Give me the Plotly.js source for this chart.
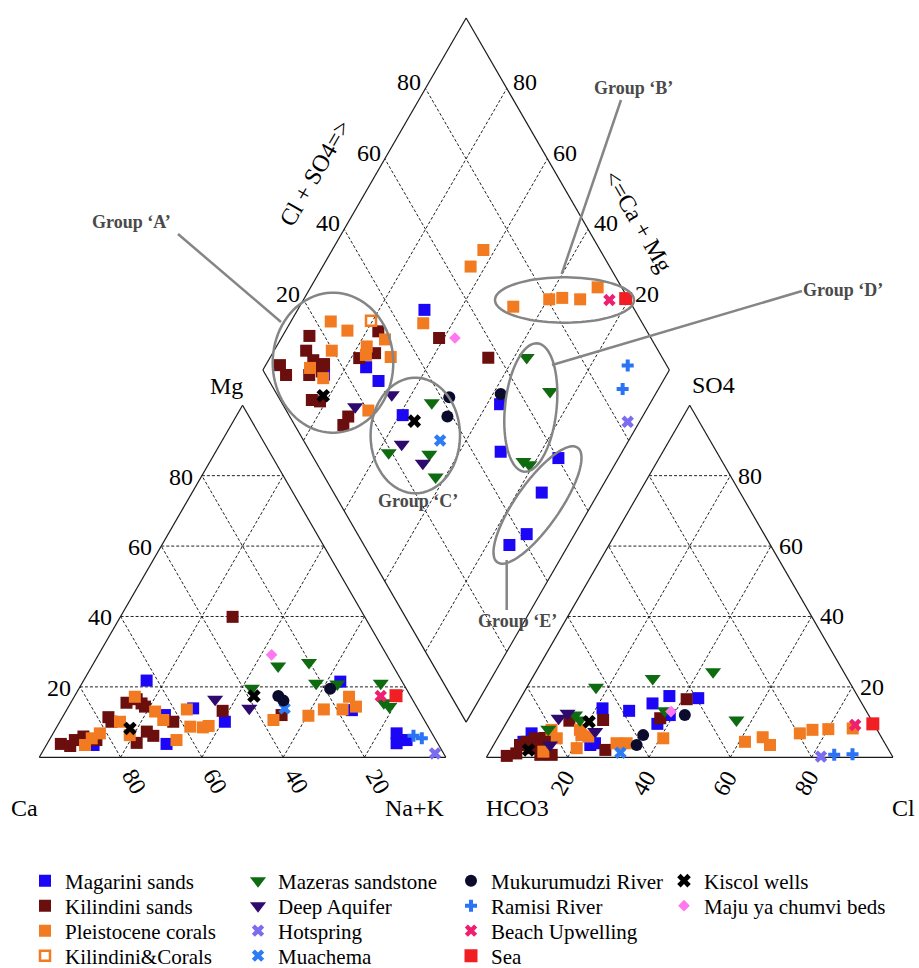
<!DOCTYPE html>
<html><head><meta charset="utf-8">
<script src="https://cdn.plot.ly/plotly-3.0.1.min.js"></script>
<style>html,body{margin:0;padding:0;background:#fff}</style>
</head><body><div id="chart" style="width:919px;height:968px"></div>
<script>
// ---------------- DATA (percent of meq) ----------------
// Cation triangle: [Mg %, Na+K %]; Anion triangle: [SO4 %, Cl %]; Diamond: [Cl+SO4 %, Ca+Mg %]
const MAGARINI_CAT = [[21.8,15.5],[13.9,30.9],[12.0,24.9],[3.8,29.4],[10.1,40.6],[3.5,11.6],[21.5,63.3],[13.4,70.2],[6.8,84.5],[4.9,86.2],[4.9,87.9],[4.0,85.9]];
const MAGARINI_AN  = [[13.9,21.6],[13.2,28.5],[15.3,33.2],[17.4,36.3],[16.8,43.7],[9.5,37.3],[12.0,39.1],[4.4,6.9],[6.8,7.7],[3.5,23.8],[4.0,24.7]];
const MAGARINI_DIA = [[14.4,84.3],[25.8,75.0],[26.9,70.0],[48.3,68.8],[28.0,59.2],[53.5,36.8],[46.9,29.9],[60.2,14.8],[51.2,14.0],[41.6,11.8],[35.8,14.5]];

const KILINDINI_CAT = [[15.5,13.7],[16.5,15.7],[15.3,17.5],[14.4,18.8],[11.4,11.3],[10.1,12.7],[3.8,3.4],[3.2,6.0],[4.9,6.3],[5.9,7.9],[4.9,11.6],[4.1,21.9],[7.3,22.8],[6.1,25.0],[10.1,27.9],[13.2,38.5],[39.9,27.6],[12.0,53.6]];
const KILINDINI_AN  = [[16.5,41.0],[11.1,37.2],[10.6,23.4],[10.4,15.2],[2.1,28.2],[0.4,4.8],[1.1,6.8],[4.4,7.7],[5.4,9.2],[3.0,11.7],[0.7,15.7],[2.6,9.4],[5.5,11.7],[3.5,6.5],[0.7,12.9]];
const KILINDINI_DIA = [[16.3,93.4],[13.4,92.1],[13.8,89.0],[15.9,85.8],[10.7,87.9],[4.9,96.5],[5.0,93.6],[7.8,83.7],[9.6,81.5],[14.4,72.4],[12.0,72.4],[25.4,78.0],[30.0,74.8],[33.9,77.1],[47.9,61.2],[57.2,46.3],[14.3,85.3]];

const PLEISTO_CAT = [[17.2,14.9],[10.1,14.8],[13.0,22.0],[10.6,25.2],[6.8,11.5],[5.4,10.2],[3.5,9.5],[6.3,19.1],[4.9,31.3],[13.6,29.5],[8.7,32.8],[8.5,36.0],[8.9,37.2],[10.6,52.3],[11.8,60.3],[13.6,63.2],[13.6,67.8],[17.2,67.6],[14.4,70.7]];
const PLEISTO_AN  = [[7.8,12.1],[5.4,14.6],[1.6,13.2],[7.8,19.1],[5.9,22.1],[6.3,20.2],[2.6,20.9],[4.0,30.0],[4.0,32.5],[5.4,40.8],[4.4,61.4],[5.7,65.1],[3.5,68.0],[6.8,73.7],[7.8,76.3],[8.0,80.1],[8.2,86.0]];
const PLEISTO_DIA = [[23.6,90.2],[26.4,84.8],[19.7,85.8],[11.9,88.7],[13.7,84.0],[28.9,77.8],[27.5,76.8],[34.4,74.3],[33.3,70.4],[20.2,68.3],[46.1,67.2],[71.3,62.8],[65.8,63.6],[70.6,47.4],[80.5,39.6],[83.9,36.6],[88.1,32.0],[94.1,29.4]];

const KILCOR_CAT = [];
const KILCOR_AN  = [];
const KILCOR_DIA = [[33.6,80.4]];

const MAZERAS_CAT = [[25.9,45.8],[26.9,52.9],[21.0,57.6],[19.6,42.5],[20.8,62.9],[21.0,73.5],[15.5,77.0],[14.4,78.9]];
const MAZERAS_AN  = [[19.9,17.0],[22.4,29.7],[24.3,43.6],[10.6,56.2],[8.0,11.2],[12.0,15.8],[10.6,17.7],[13.2,37.3]];
const MAZERAS_DIA = [[36.9,53.8],[19.2,57.3],[29.0,47.1],[27.3,42.3],[66.7,36.9],[67.6,26.3],[51.1,22.9],[52.1,21.0]];

const DEEP_CAT = [[16.5,35.0],[13.9,44.7]];
const DEEP_AN  = [[11.1,12.2],[12.5,13.7],[7.3,23.1],[3.5,13.9]];
const DEEP_DIA = [[28.2,64.8],[17.5,72.1],[23.6,55.3],[26.1,47.4]];

const HOT_CAT = [[1.1,96.8]];
const HOT_AN  = [[0.2,82.2]];
const HOT_DIA = [[82.4,2.9]];

const MUACHEMA_CAT = [[13.9,53.4]];
const MUACHEMA_AN  = [[1.3,32.3]];
const MUACHEMA_DIA = [[33.6,46.4]];

const MUKURU_CAT = [[17.4,50.1],[16.1,52.0],[19.5,61.8]];
const MUKURU_AN  = [[12.0,42.8],[6.3,35.4],[3.5,35.2]];
const MUKURU_DIA = [[42.0,50.3],[38.8,48.0],[55.1,38.1]];

const RAMISI_CAT = [[6.1,89.0],[5.4,91.4]];
const RAMISI_AN  = [[0.7,85.2],[0.9,89.6]];
const RAMISI_DIA = [[90.4,10.9],[85.8,8.8]];

const BEACH_CAT = [[17.4,75.3]];
const BEACH_AN  = [[9.2,86.1]];
const BEACH_DIA = [[95.2,24.7]];

const SEA_CAT = [[17.5,79.0]];
const SEA_AN  = [[9.5,90.3]];
const SEA_DIA = [[99.4,20.9]];

const KISCOL_CAT = [[8.2,18.2],[17.4,44.1]];
const KISCOL_AN  = [[10.1,20.2],[2.1,9.3]];
const KISCOL_DIA = [[11.2,81.5],[30.0,55.5]];

const MAJU_CAT = [[29.1,42.6]];
const MAJU_AN  = [[13.0,38.9]];
const MAJU_DIA = [[51.8,57.3]];

const TICKS = [20,40,60,80];

// ---------------- GEOMETRY ----------------
const W=919, H=968;
const SCALE=406.5, OX=39.3, OY=757.3;
const S3=Math.sqrt(3)/2, GAP=0.1;
const FONT='Liberation Serif, Times New Roman, serif';
function px2x(X){return (X-OX)/SCALE;}
function px2y(Y){return (OY-Y)/SCALE;}
function catXY(mg,nak){return [nak/100+mg/200, mg/100*S3];}
function anXY(so4,cl){return [1+GAP+cl/100+so4/200, so4/100*S3];}
const DB=[1+GAP/2, GAP/2*Math.sqrt(3)];
function diaXY(a,m){return [DB[0]+(a-m)/200, DB[1]+(a+m)/100*S3];}

// ---------------- SERIES ----------------
const series = [
 {name:'Magarini sands', cat:MAGARINI_CAT, an:MAGARINI_AN, dia:MAGARINI_DIA, sym:'square', color:'#1b06f5', size:12, legend:'legend'},
 {name:'Kilindini sands', cat:KILINDINI_CAT, an:KILINDINI_AN, dia:KILINDINI_DIA, sym:'square', color:'#6b0e0e', size:12, legend:'legend2'},
 {name:'Pleistocene corals', cat:PLEISTO_CAT, an:PLEISTO_AN, dia:PLEISTO_DIA, sym:'square', color:'#f27b21', size:12, legend:'legend3'},
 {name:'Kilindini&Corals', cat:KILCOR_CAT, an:KILCOR_AN, dia:KILCOR_DIA, sym:'square-open', color:'#f27b21', size:10, lw:2.5, legend:'legend4'},
 {name:'Mazeras sandstone', cat:MAZERAS_CAT, an:MAZERAS_AN, dia:MAZERAS_DIA, sym:'triangle-down', color:'#0f6b0f', size:14, legend:'legend'},
 {name:'Deep Aquifer', cat:DEEP_CAT, an:DEEP_AN, dia:DEEP_DIA, sym:'triangle-down', color:'#2e0a6e', size:14, legend:'legend2'},
 {name:'Hotspring', cat:HOT_CAT, an:HOT_AN, dia:HOT_DIA, sym:'x', color:'#7b6cf0', size:11, legend:'legend3'},
 {name:'Muachema', cat:MUACHEMA_CAT, an:MUACHEMA_AN, dia:MUACHEMA_DIA, sym:'x', color:'#2d7cf6', size:11, legend:'legend4'},
 {name:'Mukurumudzi River', cat:MUKURU_CAT, an:MUKURU_AN, dia:MUKURU_DIA, sym:'circle', color:'#0b0b2e', size:12, legend:'legend'},
 {name:'Ramisi River', cat:RAMISI_CAT, an:RAMISI_AN, dia:RAMISI_DIA, sym:'cross', color:'#2b73f5', size:10, legend:'legend2'},
 {name:'Beach Upwelling', cat:BEACH_CAT, an:BEACH_AN, dia:BEACH_DIA, sym:'x', color:'#ee1f6e', size:11, legend:'legend3'},
 {name:'Sea', cat:SEA_CAT, an:SEA_AN, dia:SEA_DIA, sym:'square', color:'#ef1f24', size:13, legend:'legend4'},
 {name:'Kiscol wells', cat:KISCOL_CAT, an:KISCOL_AN, dia:KISCOL_DIA, sym:'x', color:'#000000', size:12, legend:'legend'},
 {name:'Maju ya chumvi beds', cat:MAJU_CAT, an:MAJU_AN, dia:MAJU_DIA, sym:'diamond', color:'#ff78f0', size:9, legend:'legend2', lwid:195}
];

const traces = series.map(s=>{
  const pts = [].concat(
    s.cat.map(p=>catXY(p[0],p[1])),
    s.an.map(p=>anXY(p[0],p[1])),
    s.dia.map(p=>diaXY(p[0],p[1])));
  const open = s.sym.indexOf('open')>=0 || s.sym.indexOf('thin')>=0;
  const t = {
    type:'scatter', mode:'markers',
    name:'<span style="font-family:Liberation Serif">'+s.name+'</span>',
    legend:s.legend,
    x:pts.map(p=>p[0]), y:pts.map(p=>p[1]), hoverinfo:'name',
    marker:{symbol:s.sym, size:s.size, color:s.color,
      line:{width: open ? (s.lw||2) : 0, color:s.color}}
  };
  if(s.lwid) t.legendwidth = s.lwid;
  return t;
});

// ---------------- SHAPES ----------------
const shapes=[];
const EDGE={color:'#1a1a1a', width:1.2};
const GRID={color:'#222', width:1, dash:'3px,2px'};
function seg(p,q,line){shapes.push({type:'line',xref:'x',yref:'y',x0:p[0],y0:p[1],x1:q[0],y1:q[1],line:line,layer:'below'});}
function poly(pts,line){for(let i=0;i<pts.length;i++) seg(pts[i],pts[(i+1)%pts.length],line);}

TICKS.forEach(t=>{
  seg(catXY(t,0),catXY(t,100-t),GRID);
  seg(catXY(0,t),catXY(100-t,t),GRID);
  seg(catXY(0,100-t),catXY(100-t,0),GRID);
  seg(anXY(t,0),anXY(t,100-t),GRID);
  seg(anXY(0,t),anXY(100-t,t),GRID);
  seg(anXY(0,100-t),anXY(100-t,0),GRID);
  seg(diaXY(t,0),diaXY(t,100),GRID);
  seg(diaXY(0,t),diaXY(100,t),GRID);
});
poly([catXY(0,0),catXY(0,100),catXY(100,0)],EDGE);
poly([anXY(0,0),anXY(0,100),anXY(100,0)],EDGE);
poly([diaXY(0,0),diaXY(100,0),diaXY(100,100),diaXY(0,100)],EDGE);

// group ellipses & leader lines (pixel layout)
function ellipsePath(cx,cy,rx,ry,ang){
  const a=ang*Math.PI/180; let d='';
  for(let i=0;i<=90;i++){const t=i/90*2*Math.PI; const ex=rx*Math.cos(t), ey=ry*Math.sin(t);
    const X=cx+ex*Math.cos(a)-ey*Math.sin(a), Y=cy+ex*Math.sin(a)+ey*Math.cos(a);
    d+=(i?'L':'M')+px2x(X).toFixed(5)+','+px2y(Y).toFixed(5);}
  return d+'Z';
}
const GL={color:'#858585', width:2.5};
[[333,362.7,60.3,70,0],[564.5,300,69.5,22.7,0],[415.3,435.5,44.7,57.8,0],[530.8,407.5,25.8,64.5,6],[537.5,505,22,70,35]]
 .forEach(e=>shapes.push({type:'path',xref:'x',yref:'y',path:ellipsePath(e[0],e[1],e[2],e[3],e[4]),line:GL}));
[[178,234,281,322],[621,100,561.7,274],[802,291,552,365],[506.7,560,506.7,610]]
 .forEach(l=>shapes.push({type:'line',xref:'x',yref:'y',x0:px2x(l[0]),y0:px2y(l[1]),x1:px2x(l[2]),y1:px2y(l[3]),line:GL}));

// ---------------- ANNOTATIONS ----------------
const ann=[];
const TF={family:FONT,size:24,color:'#000'};
function lab(p,text,xs,ys,angle,font){ann.push({x:p[0],y:p[1],xref:'x',yref:'y',text:text,showarrow:false,xanchor:'center',yanchor:'middle',xshift:xs,yshift:ys,textangle:angle||0,font:font||TF});}
TICKS.forEach(t=>{
  lab(catXY(t,0), String(t), -21, -1);                 // Mg
  lab(catXY(0,t), String(100-t), 13, -24, 60);         // Ca
  lab(anXY(t,100-t), String(t), 20, 0);                // SO4
  lab(anXY(0,t), String(t), -5, -26, -60);             // Cl
  lab(diaXY(t,100), String(t), -16, 6);                // Cl+SO4
  lab(diaXY(100,t), String(t), 18, 6);                 // Ca+Mg
});
function plab(X,Y,text,angle,font){ann.push({x:X/W,y:1-Y/H,xref:'paper',yref:'paper',text:text,showarrow:false,xanchor:'center',yanchor:'middle',textangle:angle||0,font:font||TF});}
plab(226,386,'Mg'); plab(24,808,'Ca'); plab(415,808,'Na+K');
plab(517,808,'HCO3'); plab(903,808,'Cl'); plab(713,385,'SO4');
plab(315,173,'Cl + SO4=>',-60); plab(638,221,'<=Ca + Mg',60);
const GF={family:FONT,size:18,color:'#4a4a4a',weight:'bold'};
plab(131,222,'<b>Group ‘A’</b>',0,GF); plab(633,88,'<b>Group ‘B’</b>',0,GF);
plab(418,501,'<b>Group ‘C’</b>',0,GF); plab(843,290,'<b>Group ‘D’</b>',0,GF);
plab(517,621,'<b>Group ‘E’</b>',0,GF);

// ---------------- LAYOUT ----------------
const LF={family:FONT,size:21,color:'#000'};
function leg(Y){return {orientation:'h',x:25/W,xanchor:'left',y:1-Y/H,yanchor:'middle',font:LF,bgcolor:'rgba(0,0,0,0)',borderwidth:0,traceorder:'normal',entrywidth:168,entrywidthmode:'pixels'};}
const layout={
  width:W,height:H,margin:{l:0,r:0,t:0,b:0,autoexpand:false},paper_bgcolor:'#fff',plot_bgcolor:'#fff',
  font:{family:FONT,size:21,color:'#000'},
  xaxis:{range:[px2x(0),px2x(W)],visible:false,fixedrange:true},
  yaxis:{range:[px2y(H),px2y(0)],visible:false,fixedrange:true},
  showlegend:true,
  legend:leg(881),legend2:leg(906),legend3:leg(931),legend4:leg(956),
  shapes:shapes, annotations:ann
};
Plotly.newPlot('chart',traces,layout,{displayModeBar:false,staticPlot:true});
</script></body></html>
